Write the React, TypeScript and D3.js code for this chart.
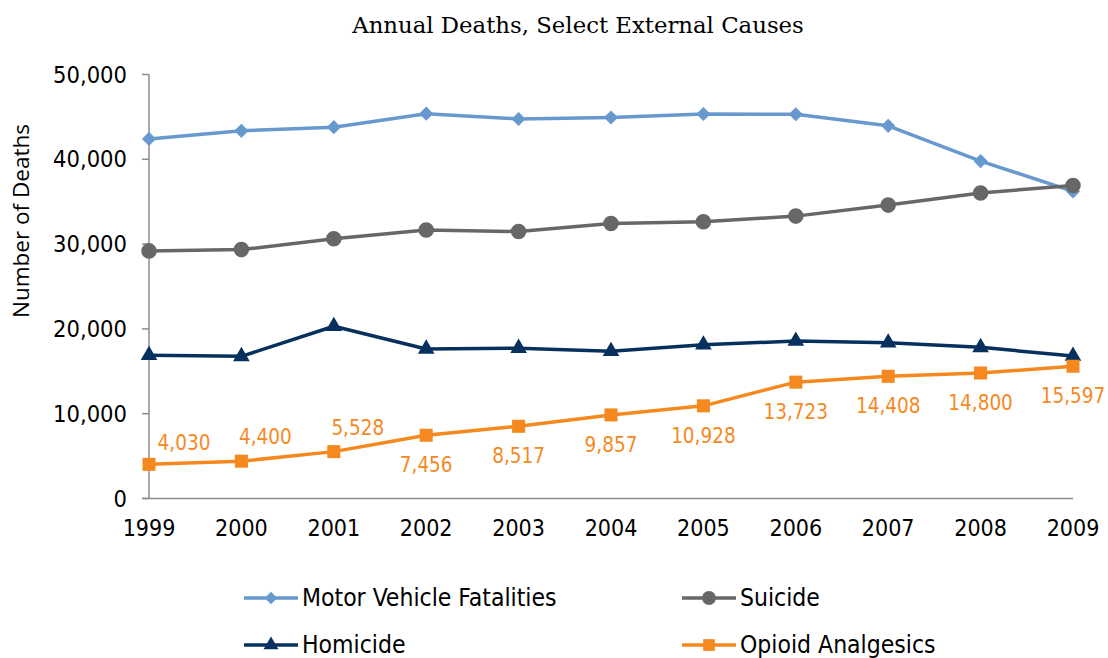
import React from 'react';
import * as d3 from 'd3';

const years = [1999, 2000, 2001, 2002, 2003, 2004, 2005, 2006, 2007, 2008, 2009];
const motorVehicle = [42401, 43354, 43788, 45380, 44757, 44933, 45343, 45316, 43945, 39790, 36216];
const suicide = [29199, 29350, 30622, 31655, 31484, 32439, 32637, 33300, 34598, 36035, 36909];
const homicide = [16889, 16765, 20308, 17638, 17732, 17357, 18124, 18573, 18361, 17826, 16799];
const opioid = [4030, 4400, 5528, 7456, 8517, 9857, 10928, 13723, 14408, 14800, 15597];
const opioidLabelPlace = ['aboveRight', 'above', 'above', 'below', 'below', 'below', 'below', 'below', 'below', 'below', 'below'];
const yTicks = [0, 10000, 20000, 30000, 40000, 50000];

const W = 1108;
const H = 658;
const sansC = '"DejaVu Sans Condensed", "DejaVu Sans", sans-serif';

type Series = { name: string; values: number[]; color: string; symbol: d3.SymbolType; size: number; rotate: number };

const series: Series[] = [
  { name: 'Motor Vehicle Fatalities', values: motorVehicle, color: '#6799CE', symbol: d3.symbolSquare, size: 100, rotate: 45 },
  { name: 'Suicide', values: suicide, color: '#676767', symbol: d3.symbolCircle, size: 190, rotate: 0 },
  { name: 'Homicide', values: homicide, color: '#06305E', symbol: d3.symbolTriangle, size: 120, rotate: 0 },
  { name: 'Opioid Analgesics', values: opioid, color: '#F5891F', symbol: d3.symbolSquare, size: 170, rotate: 0 },
];

const legendPos = [
  { x: 244, y: 598 },
  { x: 682, y: 598 },
  { x: 244, y: 645 },
  { x: 682, y: 645 },
];

export default function App() {
  const x = d3.scaleLinear().domain([1999, 2009]).range([149, 1073]);
  const y = d3.scaleLinear().domain([0, 50000]).range([498.5, 74.5]);
  const line = d3.line<number>().x((_, i) => x(years[i])).y((d) => y(d));
  const fmt = d3.format(',');

  return (
    <div style={{ position: 'absolute', left: 0, top: 0 }}>
      <svg width={W} height={H} style={{ display: 'block', background: '#fff' }}>
        <text x={578} y={33} textAnchor="middle" fontFamily='"DejaVu Serif", serif' fontSize={22.8} fill="#000">
          Annual Deaths, Select External Causes
        </text>

        <text
          transform={`translate(29,${221}) rotate(-90)`}
          textAnchor="middle"
          fontFamily='"Open Sans", sans-serif'
          fontSize={22.5}
          fill="#000"
        >
          Number of Deaths
        </text>

        {/* axes */}
        <line x1={x(1999)} x2={x(1999)} y1={y(50000)} y2={y(0)} stroke="#8c8c8c" strokeWidth={1.5} />
        <line x1={142} x2={x(2009)} y1={y(0)} y2={y(0)} stroke="#8c8c8c" strokeWidth={1.5} />
        {yTicks.map((t) => (
          <g key={t}>
            <line x1={142} x2={x(1999)} y1={y(t)} y2={y(t)} stroke="#8c8c8c" strokeWidth={1.5} />
            <text x={127} y={y(t) + 8} textAnchor="end" fontFamily={sansC} fontStretch="condensed" fontSize={23.5} fill="#000">
              {fmt(t)}
            </text>
          </g>
        ))}
        {years.map((yr) => (
          <text key={yr} x={x(yr)} y={536} textAnchor="middle" fontFamily={sansC} fontStretch="condensed" fontSize={23} fill="#000">
            {yr}
          </text>
        ))}

        {/* series */}
        {series.map((s) => (
          <g key={s.name}>
            <path d={line(s.values) ?? ''} fill="none" stroke={s.color} strokeWidth={3.5} strokeLinejoin="round" />
            {s.values.map((v, i) => (
              <path
                key={i}
                d={d3.symbol().type(s.symbol).size(s.size)() ?? ''}
                transform={`translate(${x(years[i])},${y(v)}) rotate(${s.rotate})`}
                fill={s.color}
              />
            ))}
          </g>
        ))}

        {/* opioid data labels */}
        {opioid.map((v, i) => {
          const p = opioidLabelPlace[i];
          const dx = p === 'aboveRight' ? 35 : p === 'above' ? 24 : 0;
          const dy = p === 'aboveRight' ? -14 : p === 'above' ? -17 : 37;
          return (
            <text
              key={i}
              x={x(years[i]) + dx}
              y={y(v) + dy}
              textAnchor="middle"
              fontFamily={sansC}
              fontStretch="condensed"
              fontSize={20.5}
              fill="#F5891F"
            >
              {fmt(v)}
            </text>
          );
        })}

        {/* legend */}
        {series.map((s, i) => {
          const { x: lx, y: ly } = legendPos[i];
          return (
            <g key={s.name}>
              <line x1={lx} x2={lx + 54} y1={ly} y2={ly} stroke={s.color} strokeWidth={3.5} />
              <path
                d={d3.symbol().type(s.symbol).size(s.size * 0.8)() ?? ''}
                transform={`translate(${lx + 27},${ly}) rotate(${s.rotate})`}
                fill={s.color}
              />
              <text x={lx + 58} y={ly + 8} fontFamily={sansC} fontStretch="condensed" fontSize={24.5} fill="#000">
                {s.name}
              </text>
            </g>
          );
        })}
      </svg>
    </div>
  );
}
